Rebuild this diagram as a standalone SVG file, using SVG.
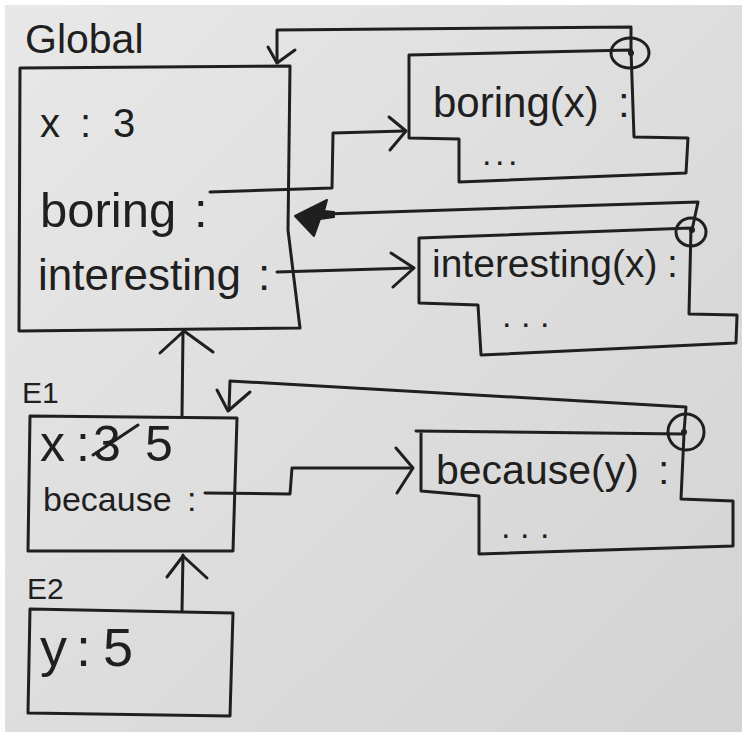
<svg xmlns="http://www.w3.org/2000/svg" width="742" height="732" viewBox="0 0 742 732">
<defs>
<linearGradient id="paper" x1="0" y1="0" x2="1" y2="1">
<stop offset="0" stop-color="#e8e8e8"/>
<stop offset="1" stop-color="#d3d3d3"/>
</linearGradient>
<style>
.ln{fill:none;stroke:#1f1f1f;stroke-width:3;stroke-linejoin:round;stroke-linecap:round}
.t{font-family:"Liberation Sans",Arial,sans-serif;fill:#1f1f1f}
.dot{fill:#1f1f1f}
</style>
</defs>
<rect width="742" height="732" fill="url(#paper)"/>
<rect x="0" y="0" width="742" height="5" fill="#ffffff"/>
<rect x="0" y="0" width="5" height="732" fill="#ffffff"/>

<g id="global">
<text class="t" x="25" y="53" font-size="41">Global</text>
<path class="ln" d="M20,68 L290,66 L288,230 L300,328 L19,331 Z"/>
<text class="t" x="40 80 113" y="137" font-size="40">x:3</text>
<text class="t" x="40" y="227" font-size="49">boring</text>
<text class="t" x="194" y="227" font-size="49">:</text>
<text class="t" x="38" y="290" font-size="44">interesting</text>
<text class="t" x="258" y="290" font-size="44">:</text>
</g>

<g id="fn-boring">
<path class="ln" d="M409,55 L631,50 L634,137 L688,138 L686,173 L459,182 L459,139 L409,138 Z"/>
<ellipse class="ln" cx="630" cy="53" rx="19" ry="15"/>
<circle class="dot" cx="631" cy="53" r="3"/>
<text class="t" x="433" y="117" font-size="42">boring(x)</text>
<text class="t" x="618" y="117" font-size="42">:</text>
<text class="t" x="482 495 508" y="165" font-size="34">...</text>
</g>

<g id="fn-interesting">
<path class="ln" d="M419,238 L691,228 L689,314 L737,315 L736,343 L481,355 L478,305 L419,303 Z"/>
<ellipse class="ln" cx="691" cy="232" rx="15" ry="14"/>
<circle class="dot" cx="692" cy="230" r="3"/>
<text class="t" x="432" y="277" font-size="39">interesting(x)</text>
<text class="t" x="667" y="277" font-size="39">:</text>
<text class="t" x="502 521 540" y="327" font-size="34">...</text>
</g>

<g id="e1">
<text class="t" x="22" y="403" font-size="30">E1</text>
<path class="ln" d="M30,416 L237,418 L233,551 L28,551 Z"/>
<text class="t" x="40 76 93 145" y="461" font-size="50">x:35</text>
<path class="ln" d="M93,455 L138,425"/>
<text class="t" x="43" y="511" font-size="34">because</text>
<text class="t" x="187" y="511" font-size="34">:</text>
</g>

<g id="e2">
<text class="t" x="27" y="599" font-size="30">E2</text>
<path class="ln" d="M30,609 L233,613 L230,716 L28,713 Z"/>
<text class="t" x="40 76 103" y="666" font-size="54">y:5</text>
</g>

<g id="fn-because">
<path class="ln" d="M416,431 L684,434 L681,499 L733,501 L733,546 L479,554 L479,496 L421,491 L421,431"/>
<ellipse class="ln" cx="686" cy="432" rx="18" ry="18"/>
<circle class="dot" cx="684" cy="432" r="3"/>
<text class="t" x="436" y="484" font-size="41">because(y)</text>
<text class="t" x="658" y="484" font-size="41">:</text>
<text class="t" x="501 520 540" y="538" font-size="34">...</text>
</g>

<g id="connectors">
<path class="ln" d="M631,53 L631,27 L277,30 L277,62"/>
<path class="ln" d="M268,47 L277,63 L295,50"/>
<path class="ln" d="M210,192 L332,188 L333,133 L404,131"/>
<path class="ln" d="M389,117 L406,131 L390,150"/>
<path class="ln" d="M277,272 L413,268"/>
<path class="ln" d="M391,253 L414,268 L393,287"/>
<path class="ln" d="M692,230 L698,202 L325,214"/>
<path d="M295,216 L327,200 L324,211 L334,212 L334,217 L320,219 L314,236 Z" fill="#1f1f1f" stroke="#1f1f1f" stroke-width="2" stroke-linejoin="round"/>
<path class="ln" d="M182,416 L183,332"/>
<path class="ln" d="M160,353 L184,331 L213,352"/>
<path class="ln" d="M684,432 L686,407 L230,381 L229,410"/>
<path class="ln" d="M217,390 L228,411 L250,392"/>
<path class="ln" d="M205,493 L290,494 L292,468 L411,468"/>
<path class="ln" d="M396,448 L413,468 L397,493"/>
<path class="ln" d="M182,611 L183,555"/>
<path class="ln" d="M167,577 L183,556 L207,578"/>
</g>
</svg>
